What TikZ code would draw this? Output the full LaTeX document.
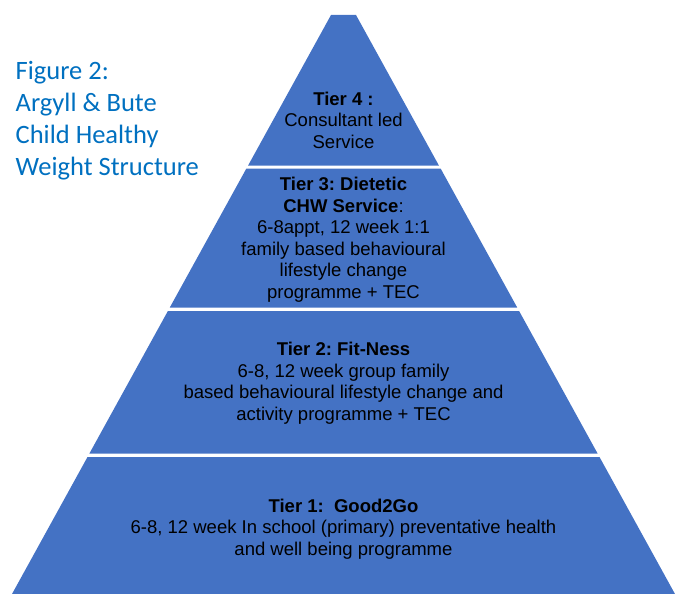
\documentclass[tikz,border=0pt]{standalone}
\usepackage{fontspec}
\setmainfont{Liberation Sans}
\newfontfamily\captionfont{Carlito}
\usepackage{tikz}
\usetikzlibrary{positioning}
\frenchspacing
\definecolor{tierblue}{HTML}{4472C4}
\definecolor{captionblue}{HTML}{0070C0}
\tikzset{
  tierblock/.style={fill=tierblue, draw=none},
  tierlabel/.style={anchor=base, align=center, inner sep=0pt, text=black, font=\fontsize{18.5}{21.5}\selectfont},
  figlabel/.style={anchor=base west, align=left, inner sep=0pt, text=captionblue, font=\captionfont\fontsize{26.5}{32}\selectfont}
}

\begin{document}
\begin{tikzpicture}[x=1pt, y=-1pt]
  \useasboundingbox (0,0) rectangle (675,594);
  \fill[tierblock] (331,15) -- (356,15) -- (438.9,165.5) -- (248.1,165.5) -- cycle;
  \fill[tierblock] (246.4,168.5) -- (440.6,168.5) -- (517.2,307.5) -- (169.8,307.5) -- cycle;
  \fill[tierblock] (167.9,311) -- (519.1,311) -- (597.6,453.5) -- (89.4,453.5) -- cycle;
  \fill[tierblock] (87.5,457) -- (599.5,457) -- (675,594) -- (12,594) -- cycle;
  \node[figlabel] (figcaption) at (15.5,175) {Figure 2:\\Argyll \& Bute\\Child Healthy\\Weight Structure};
  \node[tierlabel] (tierfour) at (343.5,148) {\textbf{Tier 4 :}\\Consultant led\\Service};
  \node[tierlabel] (tierthree) at (343.5,298) {\textbf{Tier 3: Dietetic}\\\textbf{CHW Service}:\\6-8appt, 12 week 1:1\\family based behavioural\\lifestyle change\\programme + TEC};
  \node[tierlabel] (tiertwo) at (343.5,420) {\textbf{Tier 2: Fit-Ness}\\6-8, 12 week group family\\based behavioural lifestyle change and\\activity programme + TEC};
  \node[tierlabel] (tierone) at (343.5,555) {\textbf{Tier 1:\ \ Good2Go}\\6-8, 12 week In school (primary) preventative health\\and well being programme};
\end{tikzpicture}
\end{document}
